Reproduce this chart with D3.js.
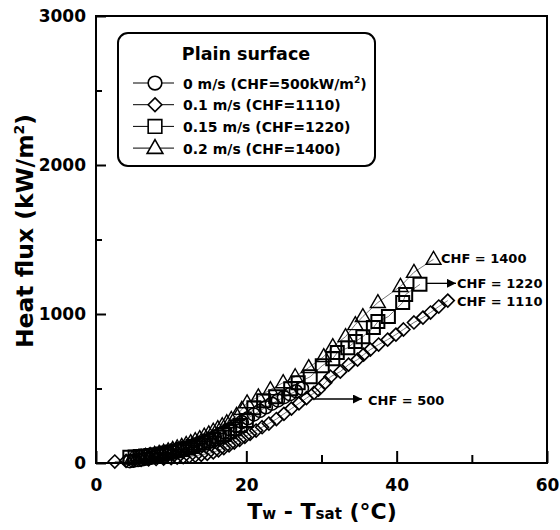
<!DOCTYPE html>
<html><head><meta charset="utf-8">
<script src="https://cdn.jsdelivr.net/npm/d3@7"></script>
<style>body{margin:0;background:#fff}svg{display:block}text{font-family:"DejaVu Sans",sans-serif;font-weight:bold;fill:#000}</style>
</head><body><svg id="c" width="560" height="530"></svg>
<script>
// Data (Tw - Tsat in °C, heat flux in kW/m²)
const tw_0 = [4.5,5.0,5.6,6.2,6.8,7.4,8.0,8.6,9.2,9.8,10.4,11.0,11.6,12.2,12.8,13.4,14.0,14.6,15.2,15.8,16.4,17.0,17.8,18.6,19.4,20.2,21.0,21.8,22.6,23.4,24.2,25.0,25.8,26.6,27.4];
const q_0  = [12,16,20,25,30,36,42,49,56,64,72,81,90,100,111,122,134,147,160,174,189,205,226,250,274,300,326,350,374,398,420,442,462,482,500];
const tw_01 = [2.5,4,5,6,7,8,9,10,10.8,11.6,12.4,13.2,14,14.8,15.6,16.3,17,17.7,18.4,19.1,19.8,20.5,21.3,22.1,23,24,25,26,27,28,29,29.6,30.5,31.2,32.5,33.6,34.8,35.6,36.5,37.6,38.8,39.9,40.9,42.3,43.5,44.5,45.6,46.8];
const q_01  = [10,14,18,21,24,27,30,33,36,40,44,49,55,62,72,85,100,118,137,156,176,196,218,240,265,295,330,365,400,435,470,492,539,579,613,660,694,727,761,795,828,862,896,943,976,1010,1050,1090];
const tw_015 = [4.5,5.2,5.9,6.6,7.3,8.0,8.7,9.4,10.1,10.8,11.5,12.2,12.9,13.6,14.3,15.0,15.7,16.4,17.1,17.8,18.5,19.2,20.0,21.0,22.3,23.9,25.9,26.9,28.5,30.1,31.5,32.1,33.5,34.5,35.5,36.9,37.5,38.9,40.8,41.2,43.1];
const q_015  = [38,40,43,47,51,56,61,67,74,82,91,100,111,122,134,147,161,176,192,210,230,252,285,370,418,444,498,539,579,653,700,741,774,815,848,909,949,983,1077,1131,1199];
const tw_02 = [4.8,5.4,6.0,6.6,7.2,7.8,8.4,9.0,9.6,10.2,10.8,11.4,12.0,12.6,13.2,13.8,14.4,15.0,15.6,16.2,16.8,17.4,18.0,18.7,19.4,20.1,21.6,23.2,24.9,26.5,28.3,30.3,31.5,33.2,34.5,35.5,37.5,40.5,42.3,44.9];
const q_02  = [28,33,38,44,50,57,64,72,81,91,101,112,124,137,150,164,180,196,213,231,250,270,292,320,360,404,444,492,539,579,640,714,781,848,929,983,1077,1185,1280,1367];

const seriesNames = ["0 m/s (CHF=500kW/m²)","0.1 m/s (CHF=1110)","0.15 m/s (CHF=1220)","0.2 m/s (CHF=1400)"];
const seriesShapes = ["circle","diamond","square","triangle"];
const xTicks = [0,20,40,60];
const yTicks = [0,1000,2000,3000];
const xMinor = [10,30,50];
const yMinor = [500,1500,2500];
const chfLabels = ["CHF = 1400","CHF = 1220","CHF = 1110","CHF = 500"];

const series = [
  {x:tw_0,y:q_0},{x:tw_01,y:q_01},{x:tw_015,y:q_015},{x:tw_02,y:q_02}
].map((s,i)=>({name:seriesNames[i],shape:seriesShapes[i],pts:s.x.map((v,j)=>[v,s.y[j]])}));

const svg = d3.select("#c");
const X = d3.scaleLinear().domain([0,60]).range([96,547]);
const Y = d3.scaleLinear().domain([0,3000]).range([463,16]);

function shapePath(type,k){
  k = k||1;
  switch(type){
    case "circle": return `M${6.5*k},0A${6.5*k},${6.5*k} 0 1,1 ${-6.5*k},0A${6.5*k},${6.5*k} 0 1,1 ${6.5*k},0Z`;
    case "diamond": return `M0,${-6.5*k}L${6.5*k},0L0,${6.5*k}L${-6.5*k},0Z`;
    case "square": return `M${-6.5*k},${-6.5*k}H${6.5*k}V${6.5*k}H${-6.5*k}Z`;
    case "triangle": return `M0,${-8*k}L${7.5*k},${5*k}L${-7.5*k},${5*k}Z`;
  }
}
const strokeW = {circle:1.6, diamond:1.6, square:2, triangle:1.4};

// lines
const line = d3.line().x(d=>X(d[0])).y(d=>Y(d[1]));
series.forEach(s=>{
  svg.append("path").attr("d",line(s.pts)).attr("fill","none").attr("stroke","#555").attr("stroke-width",0.8);
});
// markers
series.forEach(s=>{
  svg.append("g").selectAll("path").data(s.pts).join("path")
    .attr("d",shapePath(s.shape))
    .attr("transform",d=>`translate(${X(d[0])},${Y(d[1])})`)
    .attr("fill","none").attr("stroke","#000").attr("stroke-width",strokeW[s.shape]);
});

// frame
svg.append("rect").attr("x",X(0)).attr("y",Y(3000)).attr("width",X(60)-X(0)).attr("height",Y(0)-Y(3000))
  .attr("fill","none").attr("stroke","#000").attr("stroke-width",2);

// axes
const fontF = "DejaVu Sans, sans-serif";
const xAxis = d3.axisBottom(X).tickValues(xTicks).tickSize(-12).tickPadding(16).tickFormat(d3.format("d"));
const gx = svg.append("g").attr("transform",`translate(0,${Y(0)})`).call(xAxis);
gx.select(".domain").remove();
gx.selectAll("line").attr("stroke-width",2);
gx.selectAll("text").attr("font-size",17).attr("font-family",fontF).attr("font-weight","bold");
const gxm = svg.append("g").attr("transform",`translate(0,${Y(0)})`).call(d3.axisBottom(X).tickValues(xMinor).tickSize(-8).tickFormat(""));
gxm.select(".domain").remove(); gxm.selectAll("line").attr("stroke-width",2);

const yAxis = d3.axisLeft(Y).tickValues(yTicks).tickSize(-10).tickPadding(10).tickFormat(d3.format("d"));
const gy = svg.append("g").attr("transform",`translate(${X(0)},0)`).call(yAxis);
gy.select(".domain").remove();
gy.selectAll("line").attr("stroke-width",2);
gy.selectAll("text").attr("font-size",17).attr("font-family",fontF).attr("font-weight","bold");
const gym = svg.append("g").attr("transform",`translate(${X(0)},0)`).call(d3.axisLeft(Y).tickValues(yMinor).tickSize(-6).tickFormat(""));
gym.select(".domain").remove(); gym.selectAll("line").attr("stroke-width",2);

// axis titles
const yt = svg.append("text").attr("transform","translate(33,231) rotate(-90)").attr("text-anchor","middle").attr("font-size",23.5);
yt.append("tspan").text("Heat flux (kW/m");
yt.append("tspan").text("2").attr("font-size",14).attr("dy",-9);
yt.append("tspan").text(")").attr("dy",9);

const xt = svg.append("text").attr("x",322).attr("y",519).attr("text-anchor","middle").attr("font-size",22);
xt.append("tspan").text("T");
xt.append("tspan").text("w").attr("font-size",15);
xt.append("tspan").text(" - T");
xt.append("tspan").text("sat").attr("font-size",15);
xt.append("tspan").text(" (°C)");

// legend
svg.append("rect").attr("x",118).attr("y",33).attr("width",257).attr("height",133).attr("rx",10)
  .attr("fill","#fff").attr("stroke","#000").attr("stroke-width",2);
svg.append("text").attr("x",246).attr("y",60).attr("text-anchor","middle").attr("font-size",17.5).text("Plain surface");
series.forEach((s,i)=>{
  const cy = 83 + i*21.7;
  svg.append("line").attr("x1",133).attr("x2",174).attr("y1",cy).attr("y2",cy).attr("stroke","#000").attr("stroke-width",1);
  svg.append("path").attr("d",shapePath(s.shape,1.05)).attr("transform",`translate(155,${cy})`)
    .attr("fill","#fff").attr("stroke","#000").attr("stroke-width",1.6);
  const t = svg.append("text").attr("x",183).attr("y",cy+5.5).attr("font-size",14);
  if(i===0){
    t.append("tspan").text("0 m/s (CHF=500kW/m");
    t.append("tspan").text("2").attr("font-size",9).attr("dy",-6);
    t.append("tspan").text(")").attr("dy",6);
  } else t.text(s.name);
});

// CHF annotations
svg.append("defs").append("marker").attr("id","ah").attr("viewBox","0 0 10 10").attr("refX",10).attr("refY",5)
  .attr("markerWidth",9).attr("markerHeight",9).attr("markerUnits","userSpaceOnUse").attr("orient","auto")
  .append("path").attr("d","M0,0L10,5L0,10Z").attr("fill","#000");
svg.append("text").attr("x",441).attr("y",263).attr("font-size",13).text(chfLabels[0]);
svg.append("line").attr("x1",X(tw_015[tw_015.length-1])+6).attr("x2",456).attr("y1",Y(q_015[q_015.length-1])-1).attr("y2",Y(q_015[q_015.length-1])-1)
  .attr("stroke","#000").attr("stroke-width",1.3).attr("marker-end","url(#ah)");
svg.append("text").attr("x",457).attr("y",288).attr("font-size",13).text(chfLabels[1]);
svg.append("text").attr("x",457).attr("y",306).attr("font-size",13).text(chfLabels[2]);
svg.append("line").attr("x1",315).attr("x2",362).attr("y1",399).attr("y2",399)
  .attr("stroke","#000").attr("stroke-width",1.3).attr("marker-end","url(#ah)");
svg.append("text").attr("x",368).attr("y",405).attr("font-size",13).text(chfLabels[3]);
</script></body></html>
